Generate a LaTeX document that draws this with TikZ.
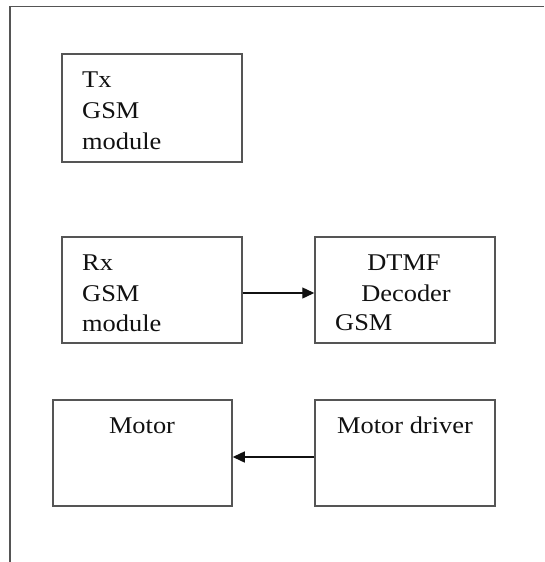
\documentclass[tikz,border=0pt]{standalone}
\usepackage{fontspec}
\setmainfont{Liberation Serif}[FakeStretch=1.1]
\usetikzlibrary{arrows.meta}
\definecolor{frame}{HTML}{555555}
\definecolor{ink}{HTML}{111111}
\begin{document}
\begin{tikzpicture}[x=1pt,y=-1pt,
  box/.style={draw=frame,line width=1.5pt,minimum width=180pt,minimum height=106pt,inner sep=0pt},
  txt/.style={inner sep=0pt,text=ink,font=\fontsize{24}{31}\selectfont},
  conn/.style={draw=ink,line width=1.4pt,-{Triangle[length=12pt,width=11pt]}}]
\useasboundingbox (0,0) rectangle (544,562);
% outer frame (top and left only)
\coordinate (ftl) at (10,6.5);
\coordinate (ftr) at (544,6.5);
\coordinate (fbl) at (10,562);
\draw[frame,line width=1.5pt] (ftr) -- (ftl) -- (fbl);
% boxes
\node[box,minimum height=108pt] (tx) at (152,108) {};
\node[box] (rx) at (152,290) {};
\node[box] (dtmf) at (405,290) {};
\node[box,minimum width=179pt] (motor) at (142.5,453) {};
\node[box] (md) at (405,453) {};
% texts
\node[txt,anchor=base west] (tx1) at (82,87) {Tx};
\node[txt,anchor=base west] (tx2) at (82,118) {GSM};
\node[txt,anchor=base west] (tx3) at (82,149) {module};
\node[txt,anchor=base west] (rx1) at (82,270) {Rx};
\node[txt,anchor=base west] (rx2) at (82,301) {GSM};
\node[txt,anchor=base west] (rx3) at (82,331) {module};
\node[txt,anchor=base] (d1) at (404,270) {DTMF};
\node[txt,anchor=base] (d2) at (406,301) {Decoder};
\node[txt,anchor=base west] (d3) at (335,330) {GSM};
\node[txt,anchor=base] (m1) at (142,433) {Motor};
\node[txt,anchor=base] (md1) at (405,433) {Motor driver};
% connectors
\draw[conn] ([yshift=-3pt]rx.east) -- ([yshift=-3pt]dtmf.west);
\draw[conn] ([yshift=-4pt]md.west) -- ([yshift=-4pt]motor.east);
\end{tikzpicture}
\end{document}
